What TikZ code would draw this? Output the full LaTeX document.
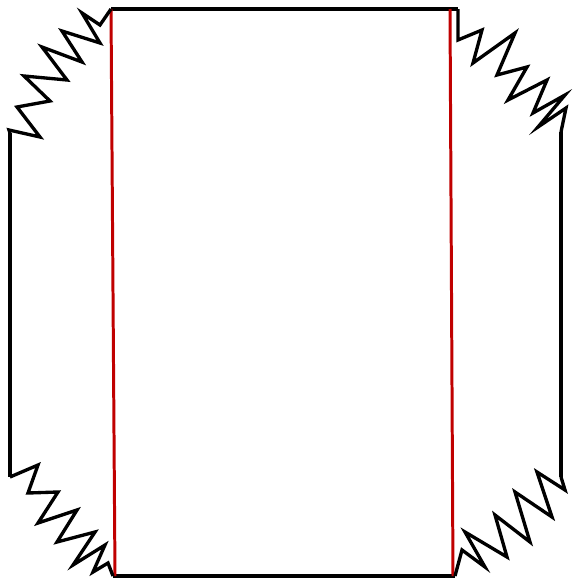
\documentclass[tikz,border=0pt]{standalone}
\usepackage{tikz}

\definecolor{edgered}{RGB}{192,0,0}

\tikzset{
  spring/.style={line width=1.9pt},
  bar/.style={line width=1.9pt},
  redge/.style={line width=1.7pt,edgered}
}

\begin{document}
\begin{tikzpicture}[x=0.02cm,y=-0.02cm]
      \useasboundingbox (0,0) rectangle (575,585);

      \path (111,9) coordinate (box_tl);
      \path (458,9) coordinate (box_tr);
      \path (113,576) coordinate (box_bl);
      \path (455,576) coordinate (box_br);
      \path (10,133) coordinate (bar_l_top);
      \path (10,477) coordinate (bar_l_bot);
      \path (561,132) coordinate (bar_r_top);
      \path (561,477) coordinate (bar_r_bot);

      % box
      \draw[bar] (box_tl) -- (box_tr);
      \draw[bar] (box_bl) -- (box_br);
      \draw[redge] (box_tl) -- (115,576);
      \draw[redge] (450,9) -- (453,576);

      % side bars
      \draw[bar] (bar_l_top) -- (bar_l_bot);
      \draw[bar] (bar_r_top) -- (bar_r_bot);

      % springs
      \draw[spring] (box_tl) -- (100,25) -- (82,13) -- (100,43) -- (62,31) -- (82,62) -- (42,47)
        -- (67,80) -- (24,76) -- (50,101) -- (17,107) -- (40,137) -- (9,130) -- (bar_l_top);
      \draw[spring] (box_tr) -- (458,40) -- (482,30) -- (473,63) -- (515,33) -- (497,75) -- (527,67)
        -- (508,100) -- (547,80) -- (533,113) -- (565,95) -- (538,127) -- (566,108) -- (bar_r_top);
      \draw[spring] (box_br) -- (462,550) -- (485,567) -- (465,532) -- (507,557) -- (495,515)
        -- (530,542) -- (515,492) -- (552,517) -- (537,472) -- (565,490) -- (bar_r_bot);
      \draw[spring] (bar_l_bot) -- (38,465) -- (28,493) -- (58,492) -- (38,523) -- (77,510)
        -- (57,542) -- (95,532) -- (73,565) -- (105,545) -- (93,572) -- (108,563) -- (box_bl);

\end{tikzpicture}
\end{document}
